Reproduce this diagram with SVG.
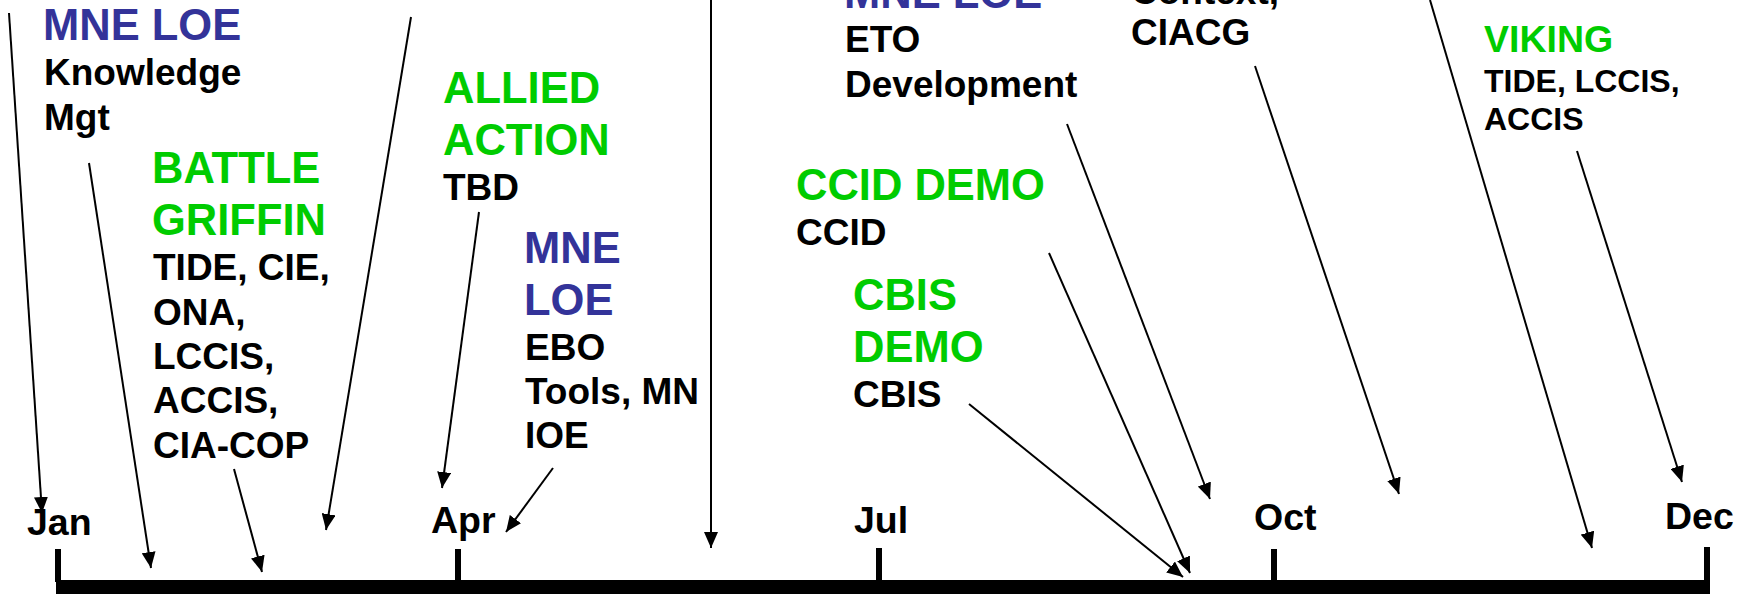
<svg xmlns="http://www.w3.org/2000/svg" width="1751" height="594" viewBox="0 0 1751 594">
<defs>
<marker id="ah" viewBox="0 0 16 14" refX="16" refY="7" markerWidth="16" markerHeight="14" markerUnits="userSpaceOnUse" orient="auto">
<path d="M0,0 L16,7 L0,14 z" fill="#000"/>
</marker>
<style>
text{font-family:"Liberation Sans",Arial,sans-serif;font-weight:bold;}
.t{font-size:43.5px;}
.b{font-size:37px;fill:#000;}
.blue{fill:#333399;}
.green{fill:#00CC00;}
.vt{font-size:37.5px;}
.vb{font-size:32px;fill:#000;}
.m{font-size:37.5px;fill:#000;}
.c{stroke:#000;stroke-width:2;fill:none;marker-end:url(#ah);}
</style>
</defs>
<rect width="1751" height="594" fill="#fff"/>
<g id="timeline">
<rect x="56" y="580" width="1654" height="16" fill="#000"/>
<rect x="55" y="549" width="6" height="33" fill="#000"/>
<rect x="455" y="549" width="6" height="33" fill="#000"/>
<rect x="876" y="548" width="6" height="34" fill="#000"/>
<rect x="1271" y="549" width="6" height="33" fill="#000"/>
<rect x="1704" y="547" width="6" height="35" fill="#000"/>
<text class="m" x="27" y="535">Jan</text>
<text class="m" x="431" y="533">Apr</text>
<text class="m" x="854" y="533">Jul</text>
<text class="m" x="1254" y="530">Oct</text>
<text class="m" x="1665" y="529">Dec</text>
</g>
<g id="mne-loe-km">
<text class="t blue" x="43" y="40">MNE LOE</text>
<text class="b" x="44" y="85">Knowledge</text>
<text class="b" x="44" y="130">Mgt</text>
</g>
<g id="battle-griffin">
<text class="t green" x="152" y="183">BATTLE</text>
<text class="t green" x="152" y="235">GRIFFIN</text>
<text class="b" x="153" y="280">TIDE, CIE,</text>
<text class="b" x="153" y="325">ONA,</text>
<text class="b" x="153" y="369">LCCIS,</text>
<text class="b" x="153" y="413">ACCIS,</text>
<text class="b" x="153" y="458">CIA-COP</text>
</g>
<g id="allied-action">
<text class="t green" x="443" y="103">ALLIED</text>
<text class="t green" x="443" y="155">ACTION</text>
<text class="b" x="443" y="200">TBD</text>
</g>
<g id="mne-loe-ebo">
<text class="t blue" x="524" y="263">MNE</text>
<text class="t blue" x="524" y="315">LOE</text>
<text class="b" x="525" y="360">EBO</text>
<text class="b" x="525" y="404">Tools, MN</text>
<text class="b" x="525" y="448">IOE</text>
</g>
<g id="mne-loe-eto">
<text class="t blue" x="844" y="8">MNE LOE</text>
<text class="b" x="845" y="52">ETO</text>
<text class="b" x="845" y="97">Development</text>
</g>
<g id="ciacg">
<text class="b" x="1131" y="4">Context,</text>
<text class="b" x="1131" y="45">CIACG</text>
</g>
<g id="ccid-demo">
<text class="t green" x="796" y="200">CCID DEMO</text>
<text class="b" x="796" y="245">CCID</text>
</g>
<g id="cbis-demo">
<text class="t green" x="853" y="310">CBIS</text>
<text class="t green" x="853" y="362">DEMO</text>
<text class="b" x="853" y="407">CBIS</text>
</g>
<g id="viking">
<text class="vt green" x="1484" y="52">VIKING</text>
<text class="vb" x="1484" y="92">TIDE, LCCIS,</text>
<text class="vb" x="1484" y="130">ACCIS</text>
</g>
<g id="connectors">
<line class="c" x1="9" y1="13" x2="42" y2="513"/>
<line class="c" x1="89" y1="163" x2="151" y2="568"/>
<line class="c" x1="234" y1="469" x2="262" y2="572"/>
<line class="c" x1="411" y1="17" x2="326" y2="530"/>
<line class="c" x1="479" y1="212" x2="442" y2="488"/>
<line class="c" x1="553" y1="468" x2="506" y2="532"/>
<line class="c" x1="711" y1="0" x2="711" y2="548"/>
<line class="c" x1="1067" y1="124" x2="1210" y2="499"/>
<line class="c" x1="1255" y1="66" x2="1399" y2="494"/>
<line class="c" x1="1430" y1="0" x2="1592" y2="548"/>
<line class="c" x1="1577" y1="151" x2="1682" y2="482"/>
<line class="c" x1="1049" y1="253" x2="1190" y2="573"/>
<line class="c" x1="969" y1="404" x2="1183" y2="577"/>
</g>
</svg>
